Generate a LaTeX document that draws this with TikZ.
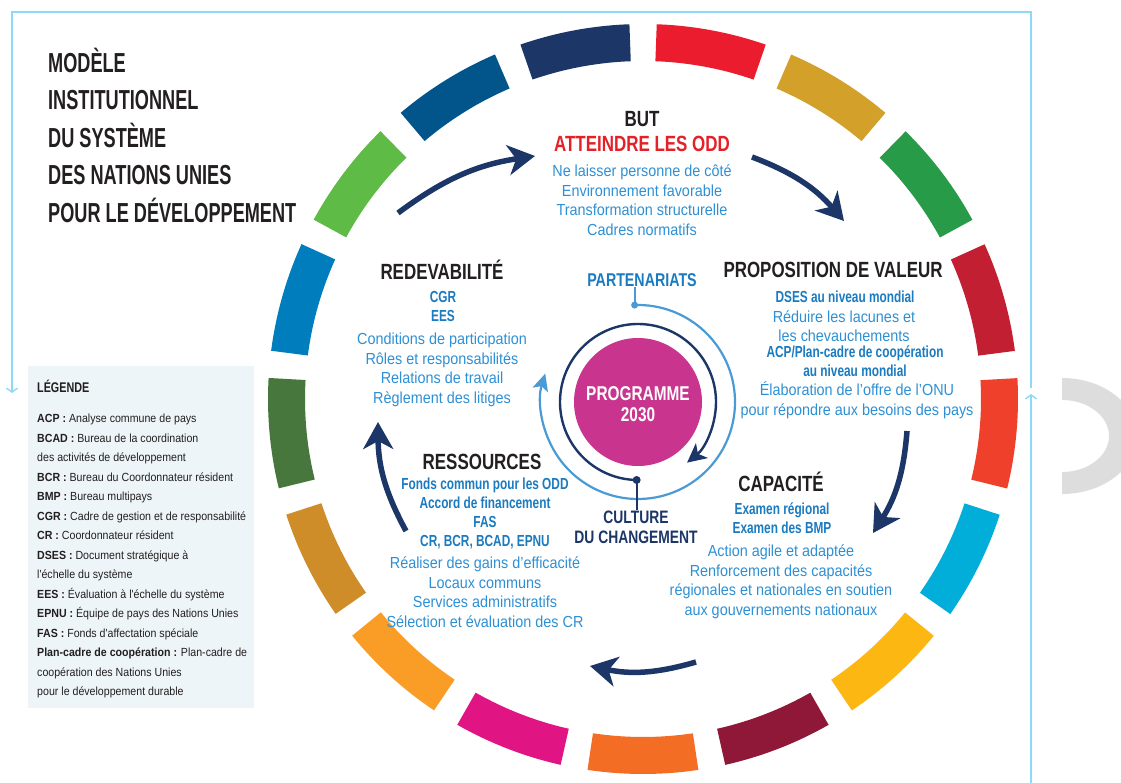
\documentclass[tikz,border=0pt]{standalone}
\usepackage{fontspec}
\setmainfont{Liberation Sans}
\newfontfamily\titlefont[FakeStretch=0.66]{Liberation Sans}
\newfontfamily\headfont[FakeStretch=0.77]{Liberation Sans}
\newfontfamily\keyfont[FakeStretch=0.74]{Liberation Sans}
\newfontfamily\bodyfont[FakeStretch=0.9]{Liberation Sans}
\usetikzlibrary{arrows.meta}

% SDG wheel colours, goal 1 to 17
\definecolor{sdg1}{HTML}{EB1C2D}
\definecolor{sdg2}{HTML}{D3A029}
\definecolor{sdg3}{HTML}{279B48}
\definecolor{sdg4}{HTML}{C31F33}
\definecolor{sdg5}{HTML}{EF402B}
\definecolor{sdg6}{HTML}{00AED9}
\definecolor{sdg7}{HTML}{FDB713}
\definecolor{sdg8}{HTML}{8F1838}
\definecolor{sdg9}{HTML}{F36D25}
\definecolor{sdg10}{HTML}{E11484}
\definecolor{sdg11}{HTML}{F99D26}
\definecolor{sdg12}{HTML}{CF8D2A}
\definecolor{sdg13}{HTML}{48773E}
\definecolor{sdg14}{HTML}{007DBC}
\definecolor{sdg15}{HTML}{5DBB46}
\definecolor{sdg16}{HTML}{02558B}
\definecolor{sdg17}{HTML}{1C3668}

\definecolor{unnavy}{HTML}{1C3668}
\definecolor{unblue}{HTML}{2E90D4}
\definecolor{unkey}{HTML}{1B7BC0}
\definecolor{unred}{HTML}{E42128}
\definecolor{unink}{HTML}{231F20}
\definecolor{unpink}{HTML}{C9358E}
\definecolor{ringblue}{HTML}{4A9AD6}
\definecolor{frameblue}{HTML}{8FD8F6}
\definecolor{legendbg}{HTML}{EEF5F9}
\definecolor{ghost}{HTML}{DDDDDD}

\begin{document}
\begin{tikzpicture}[x=1pt, y=-1pt,
    head/.style={font=\headfont\bfseries\fontsize{22}{26}\selectfont, text=unink, inner sep=0},
    key/.style={font=\keyfont\bfseries\fontsize{16}{19}\selectfont, text=unkey, align=center, inner sep=0},
    body/.style={font=\bodyfont\fontsize{16}{19.5}\selectfont, text=unblue, align=center, inner sep=0},
    flow/.style={unnavy, line width=5.5pt, -{Stealth[length=27pt, width=30pt, inset=8pt]}},
    frame/.style={frameblue, line width=1.4pt}]
    \useasboundingbox (0,0) rectangle (1121,783);
    \clip (0,0) rectangle (1121,783);
    \fill[white] (0,0) rectangle (1121,783);

    % page frame
    \draw[frame, {Straight Barb[length=4pt, width=11pt]}-] (12,393) -- (12,12) -- (1031,12) -- (1031,388);
    \draw[frame, -{Straight Barb[length=4pt, width=11pt]}] (1031,783) -- (1031,394);
    \fill[ghost] (1062,378) arc[start angle=-90, end angle=90, x radius=75, y radius=58]
        -- (1062,472) arc[start angle=90, end angle=-90, x radius=47, y radius=36] -- cycle;

    % the 17 goals around the wheel
    \begin{scope}[shift={(643,399)}]
        \foreach \i in {1,...,17} {
            \pgfmathsetmacro{\sa}{(\i-1)*360/17-87.9}
            \pgfmathsetmacro{\ea}{\sa+17}
            \fill[sdg\i] (\sa:375) arc[start angle=\sa, end angle=\ea, radius=375]
                -- (\ea:338) arc[start angle=\ea, end angle=\sa, radius=338] -- cycle;
        }
    \end{scope}

    % title
    \node[font=\titlefont\bfseries\fontsize{27.5}{37.5}\selectfont, text=unink, align=left,
        inner sep=0, anchor=west] (title) at (48,135)
        {MODÈLE\\INSTITUTIONNEL\\DU SYSTÈME\\DES NATIONS UNIES\\POUR LE DÉVELOPPEMENT};

    % legend
    \fill[legendbg] (28,366) rectangle (254,708);
    \node[font=\headfont\bfseries\fontsize{14}{16}\selectfont, text=unink, inner sep=0, anchor=west]
        (legendhead) at (37,386) {LÉGENDE};
    \node[font=\bodyfont\fontsize{11.8}{19.5}\selectfont, text=unink, align=left, inner sep=0,
        anchor=west] (legend) at (37,556)
        {\textbf{ACP :} Analyse commune de pays\\
         \textbf{BCAD :} Bureau de la coordination\\
         des activités de développement\\
         \textbf{BCR :} Bureau du Coordonnateur résident\\
         \textbf{BMP :} Bureau multipays\\
         \textbf{CGR :} Cadre de gestion et de responsabilité\\
         \textbf{CR :} Coordonnateur résident\\
         \textbf{DSES :} Document stratégique à\\
         l'échelle du système\\
         \textbf{EES :} Évaluation à l'échelle du système\\
         \textbf{EPNU :} Équipe de pays des Nations Unies\\
         \textbf{FAS :} Fonds d'affectation spéciale\\
         \textbf{Plan-cadre de coopération :} Plan-cadre de\\
         coopération des Nations Unies\\
         pour le développement durable};

    % goal
    \node[head] (but) at (642,119) {BUT};
    \node[head, text=unred] (goal) at (642,144) {ATTEINDRE LES ODD};
    \node[body] (goallist) at (642,200) {Ne laisser personne de côté\\Environnement favorable\\
        Transformation structurelle\\Cadres normatifs};

    % value proposition
    \node[head] (value) at (833,270) {PROPOSITION DE VALEUR};
    \node[key] (dses) at (845,297) {DSES au niveau mondial};
    \node[body] (dseslist) at (844,326) {Réduire les lacunes et\\les chevauchements};
    \node[key] (acp) at (855,361) {ACP/Plan-cadre de coopération\\au niveau mondial};
    \node[body] (acplist) at (857,400) {Élaboration de l’offre de l’ONU\\pour répondre aux besoins des pays};

    % capacity
    \node[head] (capacity) at (781,482) {CAPACITÉ};
    \node[key] (capkeys) at (782,518) {Examen régional\\Examen des BMP};
    \node[body] (caplist) at (781,582) {Action agile et adaptée\\Renforcement des capacités\\
        régionales et nationales en soutien\\aux gouvernements nationaux};

    % resources
    \node[head] (resources) at (482,462) {RESSOURCES};
    \node[key] (reskeys) at (485,513) {Fonds commun pour les ODD\\Accord de financement\\FAS\\CR, BCR, BCAD, EPNU};
    \node[body] (reslist) at (485,592) {Réaliser des gains d’efficacité\\Locaux communs\\
        Services administratifs\\Sélection et évaluation des CR};

    % accountability
    \node[head] (account) at (442,270) {REDEVABILITÉ};
    \node[key] (acckeys) at (443,306) {CGR\\EES};
    \node[body] (acclist) at (442,370) {Conditions de participation\\Rôles et responsabilités\\
        Relations de travail\\Règlement des litiges};

    % centre
    \coordinate (hub) at (638,402);
    \fill[unpink] (hub) circle (64);
    \node[font=\headfont\bfseries\fontsize{20}{21}\selectfont, text=white, align=center, inner sep=0]
        (agenda) at (638,404) {PROGRAMME\\2030};
    \node[font=\headfont\bfseries\fontsize{18.5}{20}\selectfont, text=unkey, inner sep=0]
        (partners) at (642,280) {PARTENARIATS};
    \node[font=\headfont\bfseries\fontsize{18}{20}\selectfont, text=unnavy, align=center, inner sep=0]
        (culture) at (636,527) {CULTURE\\DU CHANGEMENT};

    \coordinate (partdot) at ([shift={(-92:97)}]hub);
    \coordinate (cultdot) at ([shift={(91:78)}]hub);
    \draw[ringblue, line width=2.2pt, -{Stealth[length=17pt, width=16pt, inset=4pt]}]
        (partdot) arc[start angle=-92, end angle=197, radius=97];
    \draw[unnavy, line width=2.4pt, -{Stealth[length=19pt, width=19pt, inset=5pt]}]
        (cultdot) arc[start angle=91, end angle=411, radius=78];
    \draw[ringblue, line width=2pt] (partdot) -- (partdot |- partners.south);
    \draw[unnavy, line width=2pt] (cultdot) -- (cultdot |- culture.north);
    \fill[ringblue] (partdot) circle (3.5);
    \fill[unnavy] (cultdot) circle (4);

    % cycle arrows between the blocks
    \coordinate (f1) at (398,213);  \coordinate (t1) at (535,156);
    \coordinate (f2) at (752,157);  \coordinate (t2) at (844,221);
    \coordinate (f3) at (907,431);  \coordinate (t3) at (873,533);
    \coordinate (f4) at (696,662);  \coordinate (t4) at (590,666);
    \coordinate (f5) at (406,531);  \coordinate (t5) at (378,422);
    \foreach \k in {1,...,5}
        \draw[flow] (f\k) to[bend left=14] (t\k);
\end{tikzpicture}
\end{document}
